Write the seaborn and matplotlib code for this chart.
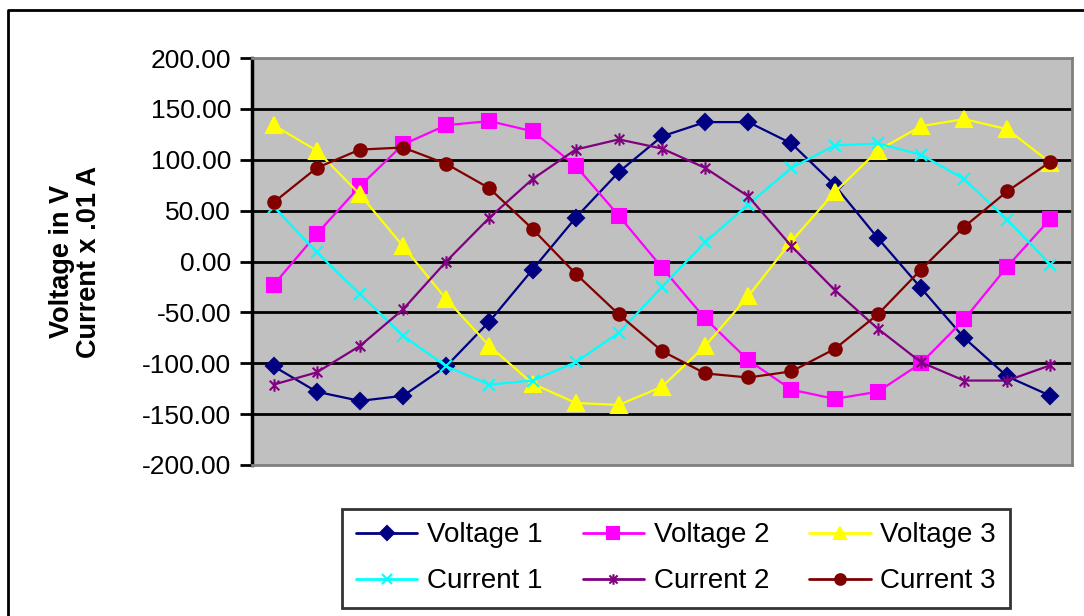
import numpy as np
import pandas as pd
import matplotlib
matplotlib.use("Agg")
import matplotlib.pyplot as plt
from matplotlib.path import Path
from matplotlib.lines import Line2D
import seaborn as sns

sns.set_style("white")
plt.rcParams['font.family'] = ['Liberation Sans', 'DejaVu Sans']
plt.rcParams['text.color'] = "black"
plt.rcParams['axes.labelcolor'] = "black"
plt.rcParams['ytick.color'] = "black"

# sample index (category axis, no labels shown)
samples = np.arange(19)

voltage_1 = [-103, -128, -137, -132, -103, -59, -8, 43, 88, 123, 137, 137, 116, 75, 23, -26, -75, -113, -132]
voltage_2 = [-23, 27, 74, 115, 134, 138, 128, 94, 45, -6, -56, -97, -126, -135, -128, -100, -57, -5, 42]
voltage_3 = [134, 109, 66, 15, -37, -83, -120, -139, -141, -123, -83, -34, 20, 68, 109, 133, 140, 130, 97]
current_1 = [54, 9, -32, -73, -103, -121, -117, -99, -70, -25, 19, 56, 92, 114, 116, 105, 81, 41, -3]
current_2 = [-121, -109, -83, -47, 0, 43, 81, 110, 120, 111, 92, 64, 15, -28, -66, -99, -117, -117, -102]
current_3 = [58, 92, 110, 112, 96, 72, 32, -12, -52, -88, -110, -114, -108, -86, -52, -8, 34, 69, 98]

series_names = ["Voltage 1", "Voltage 2", "Voltage 3", "Current 1", "Current 2", "Current 3"]
series_vals = [voltage_1, voltage_2, voltage_3, current_1, current_2, current_3]

yticks = [-200, -150, -100, -50, 0, 50, 100, 150, 200]

# excel style asterisk: an x with a vertical bar
asterisk = Path([(-1, -1), (1, 1), (-1, 1), (1, -1), (0, -1.3), (0, 1.3)],
                [Path.MOVETO, Path.LINETO, Path.MOVETO, Path.LINETO, Path.MOVETO, Path.LINETO])

styles = {
    "Voltage 1": dict(color="#000080", marker="D", ms=8.5),
    "Voltage 2": dict(color="#FF00FF", marker="s", ms=9.5),
    "Voltage 3": dict(color="#FFFF00", marker="^", ms=11),
    "Current 1": dict(color="#00FFFF", marker="x", ms=9),
    "Current 2": dict(color="#800080", marker=asterisk, ms=9),
    "Current 3": dict(color="#800000", marker="o", ms=9),
}

df = pd.DataFrame({"sample": np.tile(samples, len(series_names)),
                   "value": np.concatenate(series_vals),
                   "series": np.repeat(series_names, len(samples))})

fig = plt.figure(figsize=(10.84, 6.16), dpi=100)
ax = fig.add_axes([252 / 1084, 1 - 465 / 616, (1072 - 252) / 1084, (465 - 58) / 616])
ax.set_facecolor("#C0C0C0")

handles = {}
for name in series_names:
    st = styles[name]
    sub = df[df["series"] == name]
    sns.lineplot(data=sub, x="sample", y="value", ax=ax, color=st["color"], marker=st["marker"],
                 markersize=st["ms"], markeredgecolor=st["color"], markerfacecolor=st["color"],
                 markeredgewidth=1.5, linewidth=1.6, label=name, legend=False)
    handles[name] = Line2D([], [], color=st["color"], marker=st["marker"], markersize=st["ms"] * 0.85,
                           markeredgecolor=st["color"], markerfacecolor=st["color"],
                           markeredgewidth=1.5, linewidth=2)

ax.set_xlim(-0.5, 18.5)
ax.set_ylim(-200, 200)
ax.set_yticks(yticks)
ax.set_yticklabels([f"{v:.2f}" for v in yticks], fontsize=19, color="black")
ax.set_xticks([])
ax.set_xlabel("")
ax.set_ylabel("Voltage in V\nCurrent x .01 A", fontsize=19.5, fontweight="bold", linespacing=1.05,
              color="black")
ax.yaxis.set_label_coords(-0.183, 0.5)
ax.tick_params(axis="y", direction="out", length=9, width=2, color="black", left=True, pad=6)
for y in yticks[1:-1]:
    ax.axhline(y, color="black", lw=2, zorder=1)
for s in ["top", "right", "bottom"]:
    ax.spines[s].set_color("#808080")
    ax.spines[s].set_linewidth(2)
ax.spines["left"].set_color("black")
ax.spines["left"].set_linewidth(2.5)

# legend, rows: voltages then currents
order = ["Voltage 1", "Current 1", "Voltage 2", "Current 2", "Voltage 3", "Current 3"]
leg = fig.legend([handles[n] for n in order], order, ncol=3, loc="center",
                 bbox_to_anchor=(337 / 1084, 1 - 608 / 616, (1015 - 337) / 1084, (608 - 509) / 616),
                 fontsize=20, frameon=True, fancybox=False, edgecolor="black",
                 handlelength=2.2, handletextpad=0.35, columnspacing=1.45, labelspacing=0.72,
                 borderpad=0.5)
leg.get_frame().set_linewidth(2)
for t in leg.get_texts():
    t.set_color("black")

# outer chart border (left and top only visible)
fig.add_artist(Line2D([8 / 1084, 8 / 1084, 1.0], [0.0, 1 - 10 / 616, 1 - 10 / 616],
                      transform=fig.transFigure, color="black", lw=2))

fig.savefig("out.png", dpi=100)
